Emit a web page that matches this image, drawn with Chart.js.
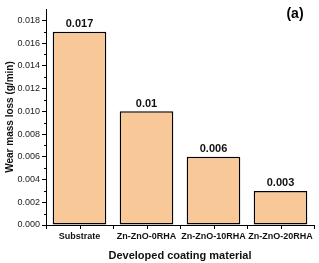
<!DOCTYPE html>
<html>
<head>
<meta charset="utf-8">
<script src="https://cdn.jsdelivr.net/npm/chart.js@4.4.1/dist/chart.umd.min.js"></script>
<style>
  html, body { margin: 0; padding: 0; background: #fff; }
  #wrap { width: 319px; height: 263px; position: relative; }
</style>
</head>
<body>
<div id="wrap"><canvas id="wearChart" width="319" height="263"></canvas></div>
<script>
// Chart data
const categories = ['Substrate', 'Zn-ZnO-0RHA', 'Zn-ZnO-10RHA', 'Zn-ZnO-20RHA'];
const wearLoss = [0.017, 0.01, 0.006, 0.003];
const valueLabels = ['0.017', '0.01', '0.006', '0.003'];
const yTicks = [0, 0.002, 0.004, 0.006, 0.008, 0.010, 0.012, 0.014, 0.016, 0.018];
const yMinorTicks = [0.001, 0.003, 0.005, 0.007, 0.009, 0.011, 0.013, 0.015, 0.017];

const barFill = '#F9C899';
const fontFamily = '"Liberation Sans", Arial, sans-serif';

// extra ticks, value labels and panel letter
const extrasPlugin = {
  id: 'extras',
  afterDraw(chart) {
    const ctx = chart.ctx;
    const x = chart.scales.x;
    const y = chart.scales.y;
    ctx.save();
    ctx.strokeStyle = '#000';
    ctx.lineWidth = 1;

    // x ticks at category centres
    categories.forEach((c, i) => {
      const px = Math.round(x.getPixelForValue(i)) + 0.5;
      ctx.beginPath();
      ctx.moveTo(px, y.bottom);
      ctx.lineTo(px, y.bottom + 4);
      ctx.stroke();
    });

    // y minor ticks
    yMinorTicks.forEach(v => {
      const py = Math.round(y.getPixelForValue(v)) + 0.5;
      ctx.beginPath();
      ctx.moveTo(x.left - 2, py);
      ctx.lineTo(x.left, py);
      ctx.stroke();
    });

    // value labels above bars
    const meta = chart.getDatasetMeta(0);
    ctx.fillStyle = '#111';
    ctx.font = 'bold 11px ' + fontFamily;
    ctx.textAlign = 'center';
    ctx.textBaseline = 'bottom';
    meta.data.forEach((bar, i) => {
      ctx.fillText(valueLabels[i], bar.x, bar.y - 2);
    });

    // panel label
    ctx.font = 'bold 14px ' + fontFamily;
    ctx.fillStyle = '#000';
    ctx.textAlign = 'center';
    ctx.textBaseline = 'middle';
    ctx.fillText('(a)', 295, 14);
    ctx.restore();
  }
};

window.onload = function () {
  const ctx = document.getElementById('wearChart').getContext('2d');
  new Chart(ctx, {
    type: 'bar',
    data: {
      labels: categories,
      datasets: [{
        data: wearLoss,
        backgroundColor: barFill,
        borderColor: '#000',
        borderWidth: 1.5,
        borderSkipped: false,
        categoryPercentage: 0.8,
        barPercentage: 1.0
      }]
    },
    options: {
      responsive: false,
      animation: false,
      layout: { padding: { top: 9, right: 5, left: 0, bottom: 0 } },
      plugins: {
        legend: { display: false },
        tooltip: { enabled: false }
      },
      scales: {
        x: {
          offset: true,
          grid: {
            offset: true,
            drawOnChartArea: false,
            tickLength: 4,
            color: '#000'
          },
          border: { color: '#000', width: 1 },
          ticks: {
            color: '#111',
            font: { family: fontFamily, size: 9, weight: 'bold' },
            padding: 2,
            maxRotation: 0,
            autoSkip: false
          },
          title: {
            display: true,
            text: 'Developed coating material',
            color: '#111',
            font: { family: fontFamily, size: 11, weight: 'bold' },
            padding: { top: 5, bottom: 0 }
          },
          afterFit(scale) { scale.height = 38; }
        },
        y: {
          min: 0,
          max: 0.019,
          grid: {
            drawOnChartArea: false,
            tickLength: 4,
            color: '#000'
          },
          border: { color: '#000', width: 1 },
          afterBuildTicks(scale) {
            scale.ticks = yTicks.map(v => ({ value: v }));
          },
          ticks: {
            color: '#222',
            font: { family: fontFamily, size: 9 },
            padding: 2,
            callback: v => Number(v).toFixed(3)
          },
          title: {
            display: true,
            text: 'Wear mass loss (g/min)',
            color: '#111',
            font: { family: fontFamily, size: 10, weight: 'bold' },
            padding: { top: 4, bottom: 2 }
          },
          afterFit(scale) { scale.width = 46; }
        }
      }
    },
    plugins: [extrasPlugin]
  });
};
</script>
</body>
</html>
